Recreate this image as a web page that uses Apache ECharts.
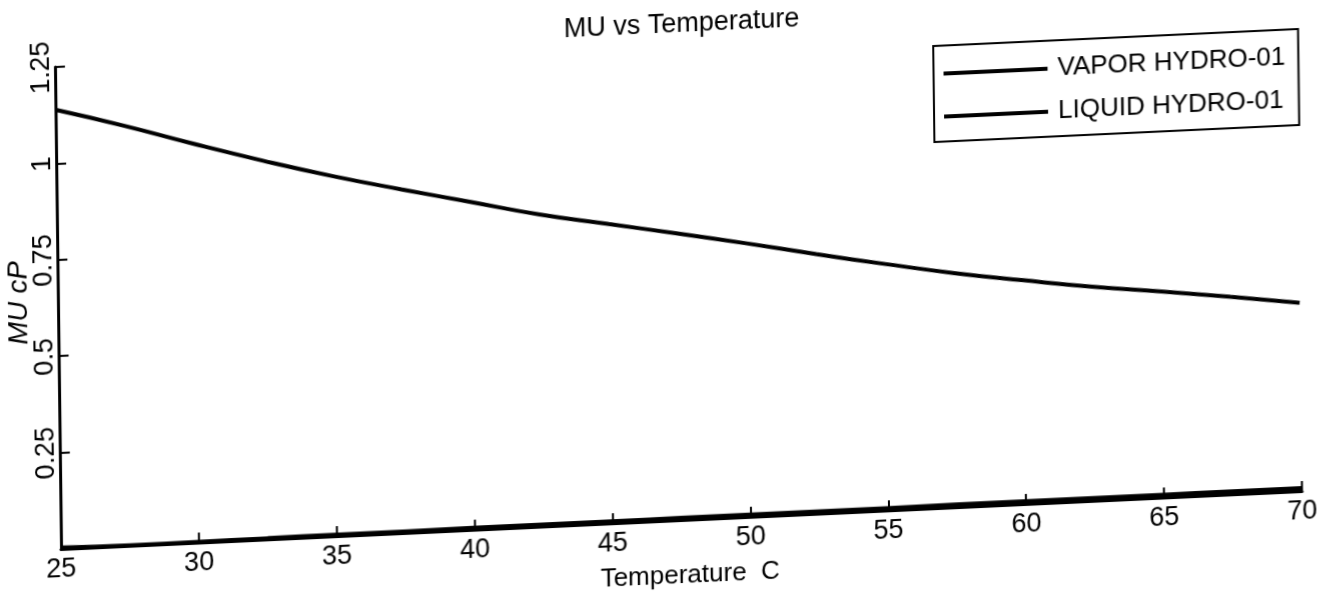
<!DOCTYPE html>
<html>
<head>
<meta charset="utf-8">
<title>MU vs Temperature</title>
<script src="https://cdn.jsdelivr.net/npm/echarts@6/dist/echarts.min.js"></script>
<style>
  html, body {
    margin: 0;
    padding: 0;
    background: #fff;
    overflow: hidden;
  }
  /* the scan is a little tilted, so the whole chart is tilted too */
  #chart {
    width: 1332px;
    height: 640px;
    background: #fff;
    transform-origin: 61px 549px;
    transform: matrix(1, -0.0467, 0.0126, 1, 0, 0);
  }
</style>
</head>
<body>
<div id="chart"></div>
<script>
// temperature, C
var temps = [25, 27.5, 30, 32.5, 35, 37.5, 40, 42.5, 45, 47.5, 50, 52.5, 55, 57.5, 60, 62.5, 65, 67.5, 70];
// MU cP, vapor (lies on the axis line)
var vaporMu = [0.004, 0.001, 0.002, 0.003, 0.004, 0.004, 0.005, 0.005, 0.005, 0.006, 0.006, 0.006, 0.006, 0.007, 0.007, 0.007, 0.007, 0.008, 0.008];
// MU cP, liquid
var liquidMu = [1.139, 1.089, 1.034, 0.982, 0.934, 0.891, 0.850, 0.809, 0.776, 0.743, 0.709, 0.673, 0.639, 0.607, 0.580, 0.555, 0.534, 0.512, 0.488];
var seriesNames = ["VAPOR HYDRO-01", "LIQUID HYDRO-01"];
var xTicks = { min: 25, max: 70, step: 5 };
var yTicks = { min: 0, max: 1.25, step: 0.25 };

var font = "'Liberation Sans', Arial, sans-serif";

function pairs(xs, ys) {
  var out = [];
  for (var i = 0; i < xs.length; i++) {
    out.push([xs[i], ys[i]]);
  }
  return out;
}

var chart = echarts.init(document.getElementById("chart"));
chart.setOption({
  animation: false,
  textStyle: { fontFamily: font, color: "#000" },
  title: {
    text: "MU vs Temperature",
    left: 565,
    top: 35,
    textStyle: {
      fontFamily: font,
      fontSize: 27,
      fontWeight: "normal",
      color: "#000"
    }
  },
  legend: {
    orient: "vertical",
    left: 939,
    top: 87,
    padding: [15, 13, 12, 10],
    itemGap: 17,
    icon: "rect",
    itemWidth: 104,
    itemHeight: 4,
    borderColor: "#000",
    borderWidth: 2,
    backgroundColor: "#fff",
    data: seriesNames,
    itemStyle: { color: "#000" },
    textStyle: {
      fontFamily: font,
      fontSize: 26,
      color: "#000",
      padding: [0, 0, 0, 5]
    }
  },
  grid: {
    left: 61,
    top: 67,
    width: 1241,
    height: 482,
    containLabel: false,
    outerBoundsMode: "none"
  },
  xAxis: {
    type: "value",
    min: xTicks.min,
    max: xTicks.max,
    interval: xTicks.step,
    name: "Temperature  C",
    nameLocation: "middle",
    nameGap: 43,
    nameTextStyle: {
      fontFamily: font,
      fontSize: 26,
      color: "#000",
      padding: [0, 0, 0, 16]
    },
    axisLine: { lineStyle: { color: "#000", width: 3 } },
    axisTick: { inside: true, length: 10, lineStyle: { color: "#000", width: 2 } },
    axisLabel: { fontFamily: font, fontSize: 27, color: "#000", margin: 7 },
    splitLine: { show: false }
  },
  yAxis: {
    type: "value",
    min: yTicks.min,
    max: yTicks.max,
    interval: yTicks.step,
    name: "MU cP",
    nameLocation: "middle",
    nameRotate: 90,
    nameGap: 25,
    nameMoveOverlap: false,
    nameTextStyle: {
      fontFamily: font,
      fontSize: 28,
      fontStyle: "italic",
      color: "#000",
      padding: [0, 0, 0, 14]
    },
    axisLine: { lineStyle: { color: "#000", width: 3 } },
    axisTick: { inside: true, length: 10, lineStyle: { color: "#000", width: 2 } },
    axisLabel: {
      fontFamily: font,
      fontSize: 27,
      color: "#000",
      rotate: 90,
      margin: 0,
      showMinLabel: false
    },
    splitLine: { show: false }
  },
  series: [
    {
      name: seriesNames[0],
      type: "line",
      symbol: "none",
      smooth: true,
      lineStyle: { color: "#000", width: 4 },
      itemStyle: { color: "#000" },
      data: pairs(temps, vaporMu)
    },
    {
      name: seriesNames[1],
      type: "line",
      symbol: "none",
      smooth: true,
      lineStyle: { color: "#000", width: 4 },
      itemStyle: { color: "#000" },
      data: pairs(temps, liquidMu)
    }
  ]
});
</script>
</body>
</html>
